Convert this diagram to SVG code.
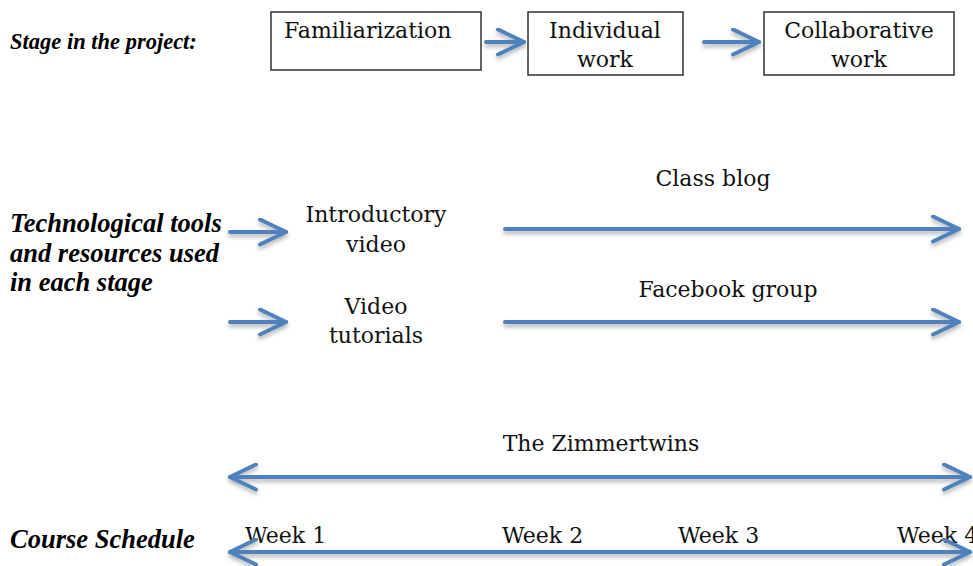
<svg xmlns="http://www.w3.org/2000/svg" width="973" height="566" viewBox="0 0 973 566">
  <style>
    .lbl { font-family: "Liberation Serif", "Times New Roman", serif; font-weight: bold; font-style: italic; font-size: 26.5px; fill: #000; }
    .lbl-s { font-size: 22.5px; }
    .txt { font-family: "DejaVu Serif", "Liberation Serif", serif; font-size: 22px; fill: #111; }
    .mid { text-anchor: middle; }
    .box { fill: #fff; stroke: #333; stroke-width: 1.5; }
    .arr { fill: none; stroke: #4F81BD; stroke-width: 4; stroke-linecap: round; filter: url(#sh); }
  </style>
  <defs>
    <filter id="sh" filterUnits="userSpaceOnUse" x="0" y="0" width="973" height="566">
      <feDropShadow dx="0" dy="3" stdDeviation="2" flood-color="#000" flood-opacity="0.3"/>
    </filter>
    <marker id="head" viewBox="-2 -2 31 29" refX="26" refY="12.5" markerWidth="31" markerHeight="29" markerUnits="userSpaceOnUse" orient="auto-start-reverse">
      <path d="M0,0 L26,12.5 L0,25" fill="none" stroke="#4F81BD" stroke-width="4" stroke-linecap="round" stroke-linejoin="round"/>
    </marker>
  </defs>
  <rect width="973" height="566" fill="#fff"/>

  <g id="label-stage"><text class="lbl lbl-s" x="10" y="49">Stage in the project:</text></g>
  <g id="label-tools">
    <text class="lbl" x="10" y="232">Technological tools</text>
    <text class="lbl" x="10" y="262">and resources used</text>
    <text class="lbl" x="10" y="291">in each stage</text>
  </g>
  <g id="label-schedule"><text class="lbl" x="10" y="548">Course Schedule</text></g>

  <g id="node-familiarization">
    <rect class="box" x="271" y="12" width="210" height="58"/>
    <text class="txt" x="284" y="38">Familiarization</text>
  </g>
  <g id="node-individual">
    <rect class="box" x="528" y="12" width="155" height="63"/>
    <text class="txt mid" x="605" y="38">Individual</text>
    <text class="txt mid" x="605" y="67">work</text>
  </g>
  <g id="node-collaborative">
    <rect class="box" x="764" y="12" width="190" height="63"/>
    <text class="txt mid" x="859" y="38">Collaborative</text>
    <text class="txt mid" x="859" y="67">work</text>
  </g>

  <g id="node-intro-video">
    <text class="txt mid" x="376" y="222">Introductory</text>
    <text class="txt mid" x="376" y="252">video</text>
  </g>
  <g id="node-video-tutorials">
    <text class="txt mid" x="376" y="314">Video</text>
    <text class="txt mid" x="376" y="343">tutorials</text>
  </g>
  <g id="node-class-blog"><text class="txt mid" x="713" y="186">Class blog</text></g>
  <g id="node-facebook"><text class="txt mid" x="728" y="297">Facebook group</text></g>
  <g id="node-zimmertwins"><text class="txt mid" x="601" y="451">The Zimmertwins</text></g>
  <g id="node-weeks">
    <text class="txt" x="245" y="543">Week 1</text>
    <text class="txt" x="502" y="543">Week 2</text>
    <text class="txt" x="678" y="543">Week 3</text>
    <text class="txt" x="897" y="543">Week 4</text>
  </g>

  <g id="connectors">
    <line class="arr" x1="486" y1="42" x2="524" y2="42" marker-end="url(#head)"/>
    <line class="arr" x1="704" y1="42" x2="759" y2="42" marker-end="url(#head)"/>
    <line class="arr" x1="230" y1="232" x2="286" y2="232" marker-end="url(#head)"/>
    <line class="arr" x1="230" y1="322" x2="286" y2="322" marker-end="url(#head)"/>
    <line class="arr" x1="505" y1="229" x2="959" y2="229" marker-end="url(#head)"/>
    <line class="arr" x1="505" y1="322" x2="959" y2="322" marker-end="url(#head)"/>
    <line class="arr" x1="230" y1="477" x2="970" y2="477" marker-start="url(#head)" marker-end="url(#head)"/>
    <line class="arr" x1="230" y1="552" x2="970" y2="552" marker-start="url(#head)" marker-end="url(#head)"/>
  </g>
</svg>
